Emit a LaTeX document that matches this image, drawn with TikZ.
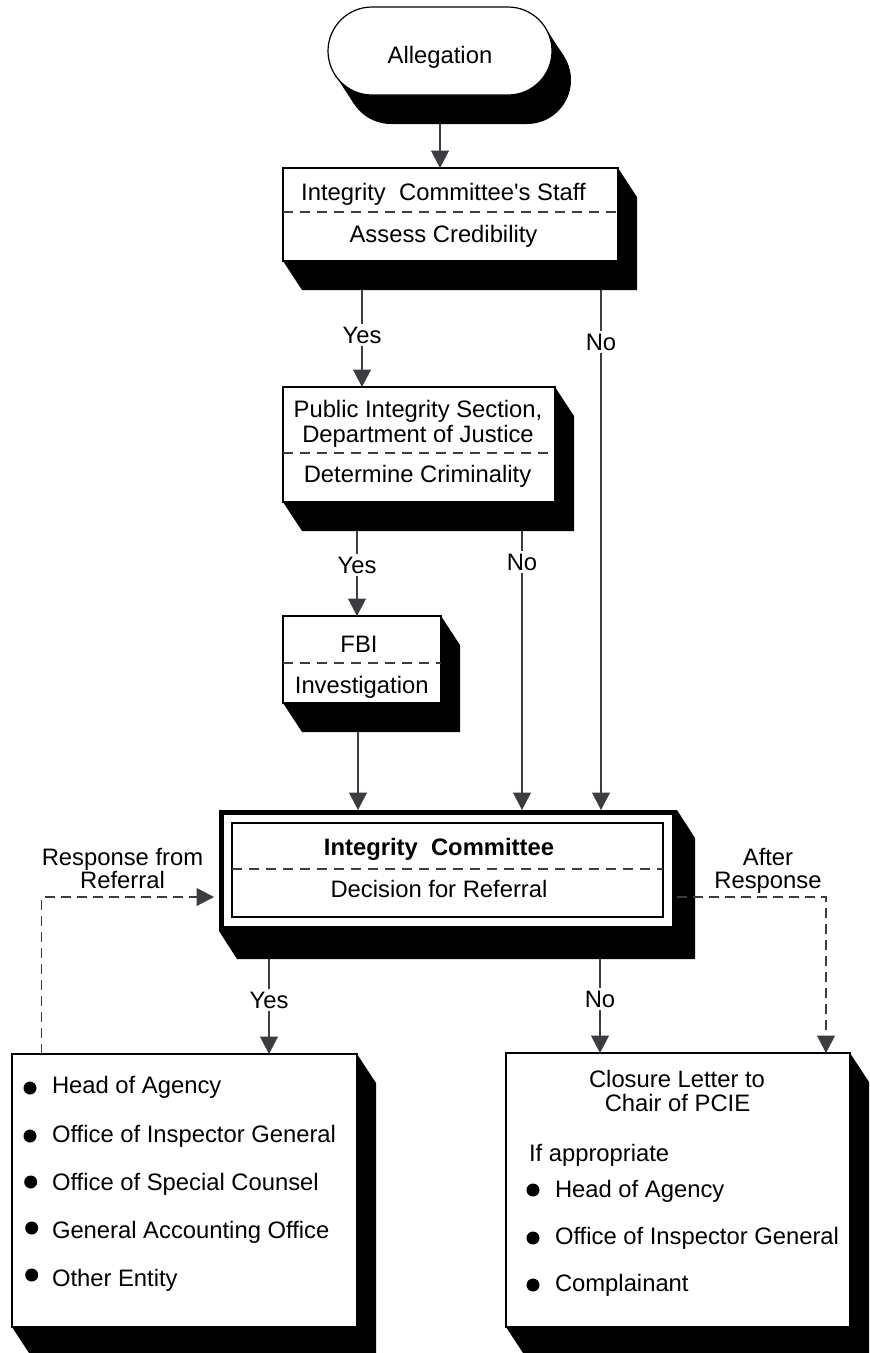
\documentclass[tikz,border=0pt]{standalone}
\usepackage{fontspec}
\setmainfont{Liberation Sans}
\usetikzlibrary{arrows.meta,calc}
\definecolor{ln}{RGB}{60,60,66}
\newcommand\shadowof[3]{\fill[black] (#1.south west) -- ($(#1.south west)+(#2,#3)$) -- ($(#1.south east)+(#2,#3)$) -- ($(#1.north east)+(#2,#3)$) -- (#1.north east) -- (#1.south east) -- cycle;}
\begin{document}
\begin{tikzpicture}[x=1pt,y=-1pt,
  box/.style={draw=black, line width=1.2pt, fill=white, rectangle, inner sep=0pt, outer sep=0pt},
  txt/.style={inner sep=0pt, outer sep=0pt, anchor=base, font=\fontsize{23.8}{28}\selectfont},
  lbl/.style={txt, fill=white, inner xsep=1pt, inner ysep=3pt},
  arr/.style={draw=ln, line width=1.2pt, -{Triangle[length=17.5pt,width=18pt]}, color=ln},
  darr/.style={arr, dash pattern=on 10pt off 6pt},
  sep/.style={draw=ln, line width=1.2pt, dash pattern=on 10pt off 7pt},
  bul/.style={circle, fill=black, inner sep=0pt, minimum size=13pt}]
\useasboundingbox (0,0) rectangle (870,1353);
\begin{scope}
\clip (0,0) rectangle (870,1353);
% Allegation (stadium) with extruded shadow
\fill[black, rounded corners=44pt] (347,36) rectangle (571,124);
\fill[black] (544.8,26.9) -- (563.8,55.9) -- (354.2,104.1) -- (335.2,75.1) -- cycle;
\node[box, rounded corners=44pt, minimum width=224pt, minimum height=88pt] (alleg) at (440,51) {};
\node[txt] (allegt) at (440,63) {Allegation};

% Integrity Committee's Staff
\node[box, minimum width=335pt, minimum height=93pt] (staff) at (450.5,214.5) {};
\shadowof{staff}{19}{29}
\draw[sep] (staff.west |- 0,212) -- (staff.east |- 0,212);
\node[txt] (staff1) at (443.5,200) {Integrity~~Committee\textquotesingle s Staff};
\node[txt] (staff2) at (443.5,242) {Assess Credibility};

% Public Integrity Section
\node[box, minimum width=272pt, minimum height=115pt] (pis) at (419,444.5) {};
\shadowof{pis}{19}{29}
\draw[sep] (pis.west |- 0,453) -- (pis.east |- 0,453);
\node[txt] (pis1) at (418,417) {Public Integrity Section,};
\node[txt] (pis2) at (418,442) {Department of Justice};
\node[txt] (pis3) at (417.5,482) {Determine Criminality};

% FBI
\node[box, minimum width=158pt, minimum height=87pt] (fbi) at (362,659.5) {};
\shadowof{fbi}{19}{29}
\draw[sep] (fbi.west |- 0,663) -- (fbi.east |- 0,663);
\node[txt] (fbi1) at (359,652) {FBI};
\node[txt] (fbi2) at (361.7,693) {Investigation};

% Integrity Committee
\node[box, line width=5pt, outer sep=2.5pt, minimum width=453pt, minimum height=116pt] (ic) at (448,870.5) {};
\shadowof{ic}{18}{28}
\node[box, line width=1.1pt, minimum width=431pt, minimum height=94pt] (icin) at (447.5,870) {};
\draw[sep] (icin.west |- 0,869) -- (icin.east |- 0,869);
\node[txt, font=\fontsize{23.8}{28}\selectfont\bfseries] (ic1) at (439,855) {Integrity~~Committee};
\node[txt] (ic2) at (439,897) {Decision for Referral};

% Referral box
\node[box, minimum width=345pt, minimum height=273pt] (refer) at (184.5,1190.5) {};
\shadowof{refer}{19}{29}
\node[bul] (rb1) at (30,1088) {};
\node[bul] (rb2) at (30,1136) {};
\node[bul] (rb3) at (30.7,1182) {};
\node[bul] (rb4) at (31.7,1228) {};
\node[bul] (rb5) at (31.7,1275) {};
\node[txt, anchor=base west] (r1) at (52,1093) {Head of Agency};
\node[txt, anchor=base west] (r2) at (52,1142) {Office of Inspector General};
\node[txt, anchor=base west] (r3) at (52,1190) {Office of Special Counsel};
\node[txt, anchor=base west] (r4) at (52,1238) {General Accounting Office};
\node[txt, anchor=base west] (r5) at (52,1286) {Other Entity};

% Closure box
\node[box, minimum width=344pt, minimum height=274pt] (close) at (678,1190) {};
\shadowof{close}{19}{29}
\node[txt] (c1) at (677,1087) {Closure Letter to};
\node[txt] (c2) at (677.5,1111) {Chair of PCIE};
\node[txt, anchor=base west] (c3) at (529,1161) {If appropriate};
\node[bul] (cb1) at (533,1190) {};
\node[bul] (cb2) at (533,1238) {};
\node[bul] (cb3) at (533,1285) {};
\node[txt, anchor=base west] (c4) at (555,1197) {Head of Agency};
\node[txt, anchor=base west] (c5) at (555,1244) {Office of Inspector General};
\node[txt, anchor=base west] (c6) at (555,1291) {Complainant};

% Connectors
\draw[arr] ($(alleg.south)+(0,29)$) -- (alleg.south |- staff.north);
\draw[arr] ($(362,0 |- staff.south)+(0,29)$) -- (362,0 |- pis.north);
\draw[arr] ($(601,0 |- staff.south)+(0,29)$) -- (601,0 |- ic.north);
\draw[arr] ($(357,0 |- pis.south)+(0,29)$) -- (357,0 |- fbi.north);
\draw[arr] ($(522,0 |- pis.south)+(0,29)$) -- (522,0 |- ic.north);
\draw[arr] ($(358,0 |- fbi.south)+(0,29)$) -- (358,0 |- ic.north);
\draw[arr] ($(269,0 |- ic.south)+(0,28)$) -- (269,0 |- refer.north);
\draw[arr] ($(600,0 |- ic.south)+(0,28)$) -- (600,0 |- close.north);
\draw[darr] (41.7,0 |- refer.north) |- ($(ic.west |- 0,897)+(-5,0)$);
\draw[darr] (ic.east |- 0,897) -| (826,0 |- close.north);

% Connector labels
\node[lbl] (l1) at (362,343) {Yes};
\node[lbl] (l2) at (601,350) {No};
\node[lbl] (l3) at (357,573) {Yes};
\node[lbl] (l4) at (522,570) {No};
\node[lbl] (l5) at (269,1008) {Yes};
\node[lbl] (l6) at (600,1007) {No};
\node[txt] (l7a) at (122.5,865) {Response from};
\node[txt] (l7b) at (122.5,888) {Referral};
\node[txt] (l8a) at (768,865) {After};
\node[txt] (l8b) at (768,888) {Response};
\end{scope}
\end{tikzpicture}
\end{document}
